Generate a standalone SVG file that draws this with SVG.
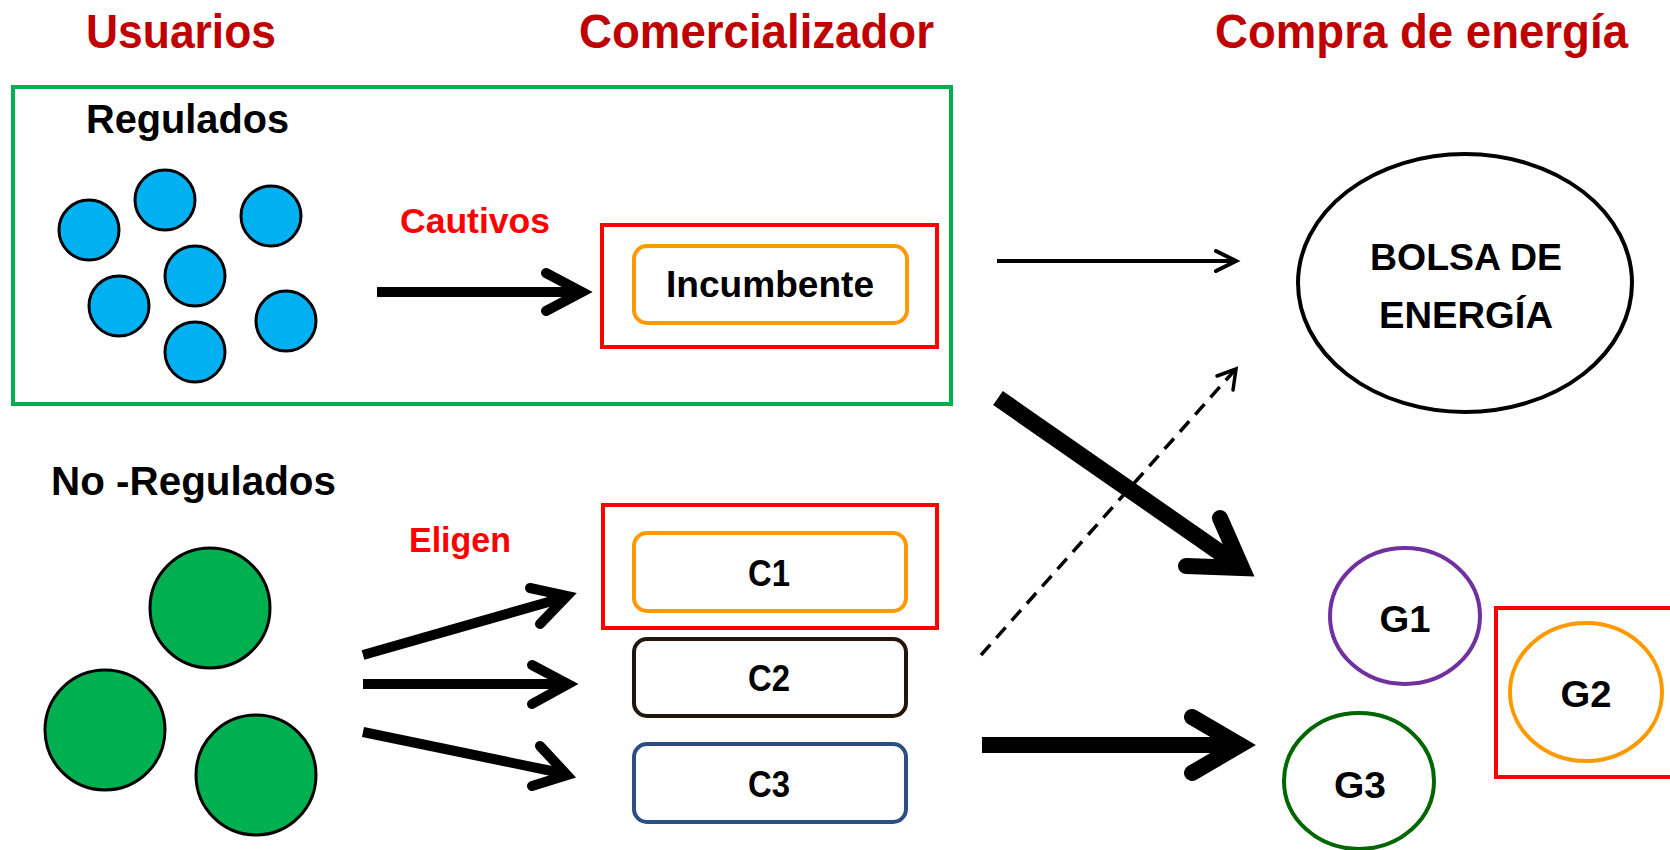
<svg xmlns="http://www.w3.org/2000/svg" width="1670" height="850" viewBox="0 0 1670 850">
<style>
text{font-family:"Liberation Sans",Arial,sans-serif;font-weight:bold;}
.hdr{fill:#C00000;font-size:48px;}
.blk{fill:#000;font-size:40px;}
.red{fill:#FF0000;font-size:35px;}
.lbl{fill:#000;font-size:37px;text-anchor:middle;}
.blue{fill:#00B0F0;stroke:#000;stroke-width:3;}
.grn{fill:#00B050;stroke:#000;stroke-width:3;}
.box{fill:none;stroke-width:4;}
.shaft{stroke:#000;fill:none;}
.head{stroke:#000;fill:none;stroke-linecap:round;stroke-linejoin:miter;}
</style>
<rect width="1670" height="850" fill="#fff"/>
<g id="headers">
<text class="hdr" x="86" y="48" textLength="190" lengthAdjust="spacingAndGlyphs">Usuarios</text>
<text class="hdr" x="579" y="48" textLength="355" lengthAdjust="spacingAndGlyphs">Comercializador</text>
<text class="hdr" x="1215" y="48" textLength="413" lengthAdjust="spacingAndGlyphs">Compra de energía</text>
</g>
<g id="regulados">
<rect x="13" y="87" width="938" height="317" fill="none" stroke="#00B050" stroke-width="4"/>
<text class="blk" x="86" y="133" textLength="203" lengthAdjust="spacingAndGlyphs">Regulados</text>
<ellipse class="blue" cx="89" cy="230" rx="30" ry="30"/>
<ellipse class="blue" cx="165" cy="200" rx="30" ry="30"/>
<ellipse class="blue" cx="271" cy="216" rx="30" ry="30"/>
<ellipse class="blue" cx="195" cy="276" rx="30" ry="30"/>
<ellipse class="blue" cx="119" cy="306" rx="30" ry="30"/>
<ellipse class="blue" cx="286" cy="321" rx="30" ry="30"/>
<ellipse class="blue" cx="195" cy="352" rx="30" ry="30"/>
<text class="red" x="400" y="233" textLength="150" lengthAdjust="spacingAndGlyphs">Cautivos</text>
</g>
<g id="incumbente">
<rect class="box" x="602" y="225" width="335" height="122" stroke="#FF0000"/>
<rect class="box" x="634" y="246" width="273" height="77" rx="13" stroke="#FF9900"/>
<text class="lbl" x="770" y="297" textLength="208" lengthAdjust="spacingAndGlyphs">Incumbente</text>
</g>
<g id="noregulados">
<text class="blk" x="51" y="495" textLength="285" lengthAdjust="spacingAndGlyphs">No -Regulados</text>
<ellipse class="grn" cx="210" cy="608" rx="60" ry="60"/>
<ellipse class="grn" cx="105" cy="730" rx="60" ry="60"/>
<ellipse class="grn" cx="256" cy="775" rx="60" ry="60"/>
<text class="red" x="409" y="552" textLength="102" lengthAdjust="spacingAndGlyphs">Eligen</text>
</g>
<g id="c1">
<rect class="box" x="603" y="505" width="334" height="123" stroke="#FF0000"/>
<rect class="box" x="634" y="533" width="272" height="78" rx="13" stroke="#FF9900"/>
<text class="lbl" x="769" y="586" textLength="42" lengthAdjust="spacingAndGlyphs">C1</text>
</g>
<g id="c2">
<rect class="box" x="634" y="639" width="272" height="77" rx="13" stroke="#231508"/>
<text class="lbl" x="769" y="691" textLength="42" lengthAdjust="spacingAndGlyphs">C2</text>
</g>
<g id="c3">
<rect class="box" x="634" y="744" width="272" height="78" rx="13" stroke="#2A4F80"/>
<text class="lbl" x="769" y="797" textLength="42" lengthAdjust="spacingAndGlyphs">C3</text>
</g>
<g id="bolsa">
<ellipse cx="1465" cy="283" rx="167" ry="129" fill="none" stroke="#000" stroke-width="4"/>
<text class="lbl" x="1466" y="270" font-size="38" textLength="192" lengthAdjust="spacingAndGlyphs">BOLSA DE</text>
<text class="lbl" x="1466" y="328" font-size="38" textLength="174" lengthAdjust="spacingAndGlyphs">ENERGÍA</text>
</g>
<g id="g1">
<ellipse cx="1405" cy="616" rx="75" ry="68" fill="none" stroke="#7030A0" stroke-width="4"/>
<text class="lbl" x="1405" y="632" font-size="41" textLength="51" lengthAdjust="spacingAndGlyphs">G1</text>
</g>
<g id="g2">
<rect class="box" x="1496" y="608" width="190" height="169" stroke="#FF0000"/>
<ellipse cx="1586" cy="692" rx="76" ry="69" fill="none" stroke="#FF9900" stroke-width="4"/>
<text class="lbl" x="1586" y="707" font-size="41" textLength="51" lengthAdjust="spacingAndGlyphs">G2</text>
</g>
<g id="g3">
<ellipse cx="1359" cy="781" rx="75" ry="68" fill="none" stroke="#006600" stroke-width="4"/>
<text class="lbl" x="1360" y="798" font-size="41" textLength="52" lengthAdjust="spacingAndGlyphs">G3</text>
</g>
<g id="connectors">
<line class="shaft" x1="377" y1="292" x2="580" y2="292" stroke-width="10"/>
<polyline class="head" points="546,273 582,292 546,311" stroke-width="10"/>
<line class="shaft" x1="363" y1="655" x2="566" y2="597" stroke-width="10"/>
<polyline class="head" points="530,588 567,596 540,624" stroke-width="10"/>
<line class="shaft" x1="363" y1="684" x2="566" y2="684" stroke-width="10"/>
<polyline class="head" points="532,665 568,684 532,704" stroke-width="10"/>
<line class="shaft" x1="363" y1="732" x2="566" y2="774" stroke-width="10"/>
<polyline class="head" points="540,746 567,775 532,786" stroke-width="10"/>
<line class="shaft" x1="997" y1="261" x2="1234" y2="261" stroke-width="4"/>
<polyline class="head" points="1216,251 1236,261 1216,271" stroke-width="4"/>
<line class="shaft" x1="981" y1="655" x2="1234" y2="371" stroke-width="3.5" stroke-dasharray="14 9"/>
<polyline class="head" points="1217,376 1236,369 1233,390" stroke-width="3.5"/>
<line class="shaft" x1="998" y1="398" x2="1238" y2="565" stroke-width="17"/>
<polyline class="head" points="1220,518 1242,568 1186,566" stroke-width="16"/>
<line class="shaft" x1="982" y1="745" x2="1236" y2="745" stroke-width="16"/>
<polyline class="head" points="1192,717 1240,745 1192,773" stroke-width="16"/>
</g>
</svg>
